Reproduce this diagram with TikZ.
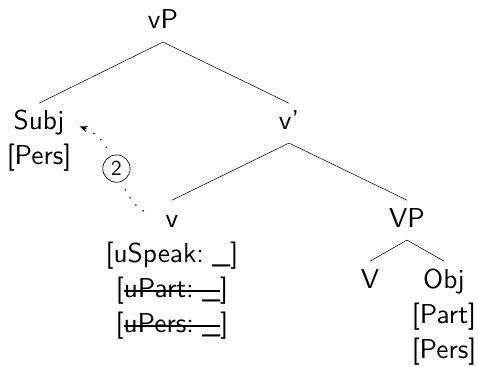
\documentclass[tikz,border=0pt]{standalone}
\usepackage{fontspec}
\newfontfamily\treefont{lmsans10-regular}[Extension=.otf, Ligatures=TeX]
\usetikzlibrary{arrows.meta}

% struck-out feature text, and an empty value slot
\newcommand{\strikeout}[1]{\setbox0\hbox{#1}\rlap{\rule[0.17em]{\wd0}{1.5pt}}\box0}
\newcommand{\slot}{\kern0.3em\_}

\begin{document}
\begin{tikzpicture}[x=0.75pt, y=0.75pt,
    every node/.style={font=\fontsize{20.5}{24}\selectfont\treefont},
    cat/.style={anchor=base, inner sep=4.5pt, text height=15.4pt, text depth=5.1pt},
    feat/.style={anchor=base, inner sep=0pt},
    agree/.style={line width=1.3pt, line cap=round, dash pattern=on 0pt off 7pt},
    step label/.style={circle, solid, draw, line width=0.5pt, fill=white, inner sep=2.5pt,
        preaction={draw=white, line width=12pt},
        font=\fontsize{16}{18}\selectfont\treefont}]
    % variables
    \pgfmathsetmacro{\vGap}{35}

    \useasboundingbox (0,0) rectangle (478,-367);

    % tree
    \node[cat] (vP) at (163,-29) {vP};
    \node[cat] (subj) at (39,-130) {Subj};
    \node[cat] (vbar) at (289,-130) {v'};
    \node[cat] (v) at (172,-227) {v};
    \node[cat] (VP) at (407,-227) {VP};
    \node[cat] (V) at (370,-288) {V};
    \node[cat] (obj) at (444,-288) {Obj};

    \draw (vP.south) -- (subj.north);
    \draw (vP.south) -- (vbar.north);
    \draw (vbar.south) -- (v.north);
    \draw (vbar.south) -- (VP.north);
    \draw (VP.south) -- (V.north);
    \draw (VP.south) -- (obj.north);

    % features
    \node[feat] (subjpers) at (39,-130-\vGap) {[Pers]};
    \node[feat] (speak) at (172,-227-\vGap) {[uSpeak:\slot]};
    \node[feat] (part) at (172,-227-2*\vGap) {[\strikeout{uPart:\slot}]};
    \node[feat] (pers) at (172,-227-3*\vGap) {[\strikeout{uPers:\slot}]};
    \node[feat] (objpart) at (444,-288-\vGap) {[Part]};
    \node[feat] (objpers) at (444,-288-2*\vGap) {[Pers]};

    % agreement step
    \draw[agree, -{Stealth[length=6pt, width=4.5pt]}, shorten <=14pt, shorten >=7pt]
        (v.west) to[out=150, in=-20]
        node[step label] (two) {2}
        (subj.east);
\end{tikzpicture}
\end{document}
